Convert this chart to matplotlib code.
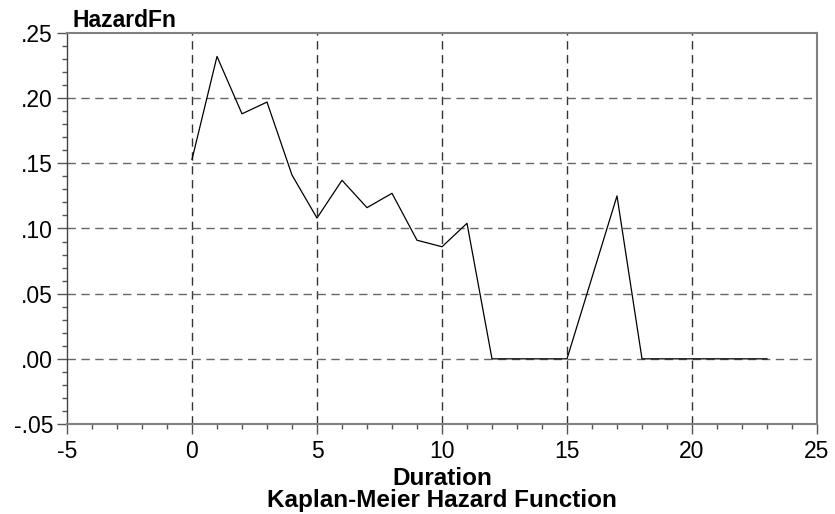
import matplotlib
matplotlib.use("Agg")
import matplotlib.pyplot as plt
from matplotlib.ticker import MultipleLocator, FuncFormatter

plt.rcParams['font.family'] = ['Liberation Sans', 'DejaVu Sans']
plt.rcParams['axes.unicode_minus'] = False

# duration periods and estimated hazard values
duration = [0, 1, 2, 3, 4, 5, 6, 7, 8, 9, 10, 11, 12, 13, 14, 15, 16, 17, 18, 19, 20, 21, 22, 23]
hazard = [0.153, 0.232, 0.188, 0.197, 0.141, 0.108, 0.137, 0.116, 0.127, 0.091, 0.086, 0.104,
          0.0, 0.0, 0.0, 0.0, 0.0625, 0.125, 0.0, 0.0, 0.0, 0.0, 0.0, 0.0]

fig = plt.figure(figsize=(8.35, 5.14), dpi=100)
ax = fig.add_axes([67/835, 1 - 424/514, (817 - 67)/835, (424 - 33)/514])

ax.plot(duration, hazard, color='black', lw=0.9)

ax.set_xlim(-5, 25)
ax.set_ylim(-0.05, 0.25)
ax.xaxis.set_major_locator(MultipleLocator(5))
ax.xaxis.set_minor_locator(MultipleLocator(1))
ax.yaxis.set_major_locator(MultipleLocator(0.05))
ax.yaxis.set_minor_locator(MultipleLocator(0.01))

def yfmt(v, pos):
    s = '%.2f' % v
    return s.replace('0.', '.')
ax.yaxis.set_major_formatter(FuncFormatter(yfmt))

ax.tick_params(which='major', length=7, width=1, color='#555555', labelsize=16.5, pad=3)
ax.tick_params(axis='x', which='major', pad=4.5)
ax.tick_params(which='minor', length=3.5, width=1, color='#555555')

# dashed grid, skip the edges
for xv in range(0, 25, 5):
    ax.axvline(xv, color='#333333', lw=1, ls=(0, (6, 4)), zorder=0)
for yv in [0.0, 0.05, 0.10, 0.15, 0.20]:
    ax.axhline(yv, color='#666666', lw=1, ls=(0, (6, 4)), zorder=0)

for side in ['top', 'right', 'bottom']:
    ax.spines[side].set_color('#808080')
    ax.spines[side].set_linewidth(1.5)
ax.spines['left'].set_color('#444444')
ax.spines['left'].set_linewidth(1)

fig.text(73/835, 1 - 27/514, 'HazardFn', fontsize=16.5, fontweight='bold', va='baseline', ha='left')
# baseline of the last line (multi-line text)
fig.text(442/835, 1 - 507/514, 'Duration\nKaplan-Meier Hazard Function', fontsize=17.5,
         fontweight='bold', va='baseline', ha='center', multialignment='center', linespacing=0.97)

fig.savefig('out.png', dpi=100)
